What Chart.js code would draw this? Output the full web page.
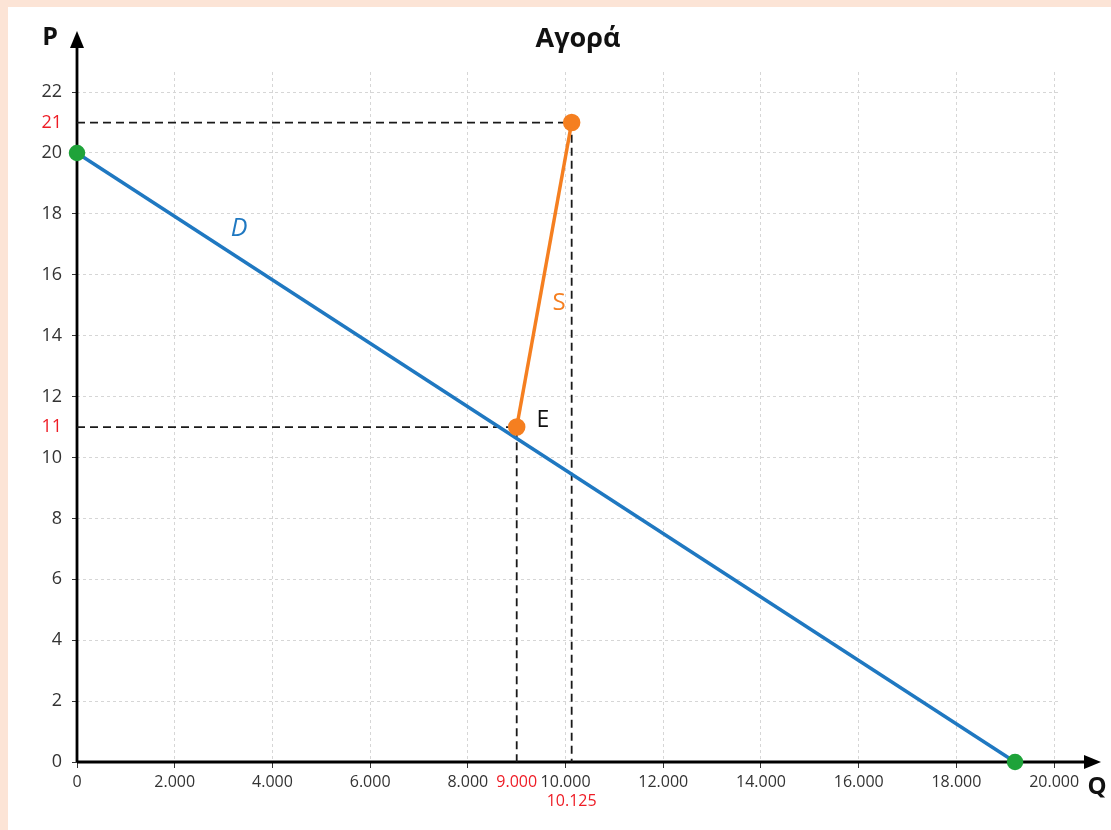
<!DOCTYPE html>
<html>
<head>
<meta charset="utf-8">
<script src="https://cdn.jsdelivr.net/npm/chart.js@4.4.1/dist/chart.umd.min.js"></script>
<style>
  html, body { margin: 0; padding: 0; background: #fce4d6; width: 1111px; height: 830px; overflow: hidden; }
  #c { position: absolute; left: 8px; top: 7px; background: #ffffff; }
</style>
</head>
<body>
<canvas id="c" width="1103" height="823"></canvas>
<script>
// ---- data ----
const qTicks = [0, 2000, 4000, 6000, 8000, 10000, 12000, 14000, 16000, 18000, 20000];
const qMarks = [9000, 10125];
const pTicks = [0, 2, 4, 6, 8, 10, 12, 14, 16, 18, 20, 22];
const pMarks = [11, 21];
const demandQ = [0, 19200];
const demandP = [20, 0];
const supplyQ = [9000, 10125];
const supplyP = [11, 21];
const guideHighQ = [0, 10125, 10125];
const guideHighP = [21, 21, 0];
const guideLowQ = [0, 9000, 9000];
const guideLowP = [11, 11, 0];

const toXY = (xs, ys) => xs.map((x, i) => ({ x: x, y: ys[i] }));
const fmt = v => String(v).replace(/\B(?=(\d{3})+(?!\d))/g, '.');

const RED = '#ee1c25';
const TXT = '#333333';
const GRID = '#d6d6d6';
const FONT = "'Open Sans', 'DejaVu Sans', sans-serif";

const overlay = {
  id: 'overlay',
  beforeDatasetsDraw(chart) {
    const { ctx } = chart;
    const xs = chart.scales.x, ys = chart.scales.y;
    const ox = xs.getPixelForValue(0), oy = ys.getPixelForValue(0);
    ctx.save();
    ctx.strokeStyle = '#000';
    ctx.fillStyle = '#000';
    ctx.lineWidth = 2.8;
    // x axis
    const xEnd = 1093;
    ctx.beginPath(); ctx.moveTo(ox, oy); ctx.lineTo(xEnd - 8, oy); ctx.stroke();
    ctx.beginPath(); ctx.moveTo(xEnd, oy); ctx.lineTo(xEnd - 17, oy - 7); ctx.lineTo(xEnd - 17, oy + 7); ctx.closePath(); ctx.fill();
    // y axis
    const yEnd = 24;
    ctx.beginPath(); ctx.moveTo(ox, oy); ctx.lineTo(ox, yEnd + 8); ctx.stroke();
    ctx.beginPath(); ctx.moveTo(ox, yEnd); ctx.lineTo(ox - 7, yEnd + 17); ctx.lineTo(ox + 7, yEnd + 17); ctx.closePath(); ctx.fill();
    ctx.restore();
  },
  afterDraw(chart) {
    const { ctx } = chart;
    ctx.save();
    ctx.textAlign = 'center';
    ctx.textBaseline = 'middle';
    ctx.fillStyle = '#111';
    ctx.font = "bold 27px " + FONT;
    ctx.fillText('Αγορά', 570, 32);
    ctx.font = "bold 25px " + FONT;
    ctx.fillText('P', 42, 31);
    ctx.font = "bold 24px " + FONT;
    ctx.fillText('Q', 1089, 780);
    ctx.fillStyle = '#1f78c1';
    ctx.font = "italic 25px " + FONT;
    ctx.fillText('D', 231, 222);
    ctx.fillStyle = '#f57f20';
    ctx.font = "24px " + FONT;
    ctx.fillText('S', 551, 296);
    ctx.fillStyle = '#111';
    ctx.font = "23px " + FONT;
    ctx.fillText('E', 535, 413);
    ctx.restore();
  }
};

new Chart(document.getElementById('c'), {
  type: 'scatter',
  data: {
    datasets: [
      { data: toXY(guideHighQ, guideHighP), showLine: true, borderColor: '#1a1a1a', borderWidth: 1.8, borderDash: [8, 5], pointRadius: 0, clip: false, order: 5 },
      { data: toXY(guideLowQ, guideLowP), showLine: true, borderColor: '#1a1a1a', borderWidth: 1.8, borderDash: [8, 5], pointRadius: 0, clip: false, order: 4 },
      { data: toXY(demandQ, demandP), showLine: true, borderColor: '#1f78c1', borderWidth: 3.5, pointRadius: 6.5, pointBackgroundColor: '#1fa33a', pointBorderColor: '#1fa33a', clip: false, order: 3 },
      { data: toXY(supplyQ, supplyP), showLine: true, borderColor: '#f57f20', borderWidth: 3.5, pointRadius: 7, pointBackgroundColor: '#f57f20', pointBorderColor: '#f57f20', clip: false, order: 1 }
    ]
  },
  options: {
    responsive: false,
    animation: false,
    events: [],
    layout: { padding: { left: 0, top: 65, right: 51, bottom: 18 } },
    plugins: { legend: { display: false }, tooltip: { enabled: false }, title: { display: false } },
    scales: {
      x: {
        type: 'linear', min: 0, max: 20120,
        afterBuildTicks: s => { s.ticks = qTicks.concat(qMarks).sort((a, b) => a - b).map(v => ({ value: v })); },
        afterFit: s => { s.height = 50; },
        border: { display: false, dash: [3, 3] },
        grid: {
          color: c => (c.tick && qMarks.includes(c.tick.value)) ? 'rgba(0,0,0,0)' : GRID,
          tickColor: c => (c.tick && qMarks.includes(c.tick.value)) ? 'rgba(0,0,0,0)' : '#333',
          tickLength: 6, tickBorderDash: [], lineWidth: 1
        },
        ticks: {
          autoSkip: false, maxRotation: 0, padding: 5,
          font: { family: FONT, size: 16 },
          color: c => (c.tick && qMarks.includes(c.tick.value)) ? RED : TXT,
          callback: v => v === 10125 ? ['', fmt(v)] : fmt(v)
        }
      },
      y: {
        type: 'linear', min: 0, max: 22.66,
        afterBuildTicks: s => { s.ticks = pTicks.concat(pMarks).sort((a, b) => a - b).map(v => ({ value: v })); },
        afterFit: s => { s.width = 69; },
        border: { display: false, dash: [3, 3] },
        grid: {
          color: c => (c.tick && pMarks.includes(c.tick.value)) ? 'rgba(0,0,0,0)' : GRID,
          tickColor: c => (c.tick && pMarks.includes(c.tick.value)) ? 'rgba(0,0,0,0)' : '#333',
          tickLength: 5, tickBorderDash: [], lineWidth: 1
        },
        ticks: {
          autoSkip: false, padding: 10,
          font: { family: FONT, size: 18 },
          color: c => (c.tick && pMarks.includes(c.tick.value)) ? RED : TXT,
          callback: v => String(v)
        }
      }
    }
  },
  plugins: [overlay]
});
</script>
</body>
</html>
